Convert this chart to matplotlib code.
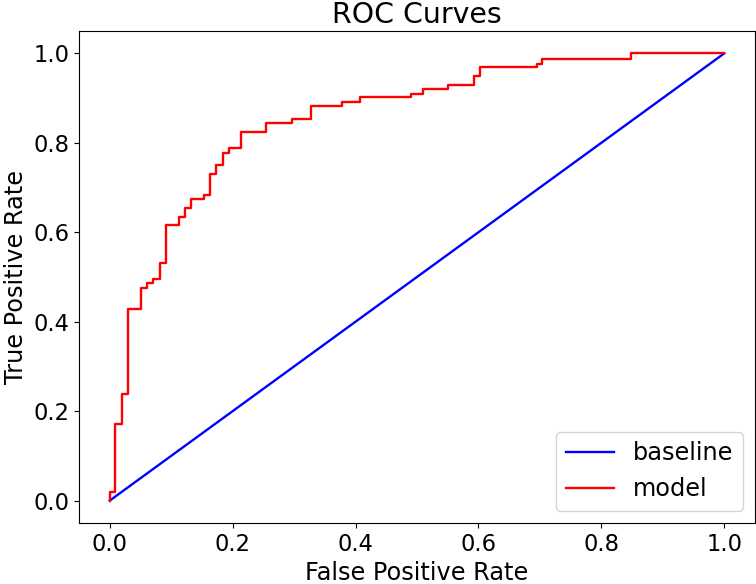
import matplotlib.pyplot as plt

plt.rcParams['font.size'] = 17.3

fpr = [0, 0, 0.0093, 0.020, 0.030, 0.0505, 0.061, 0.071, 0.081, 0.091, 0.112,
       0.122, 0.132, 0.153, 0.163, 0.173, 0.184, 0.194, 0.214, 0.255, 0.296,
       0.327, 0.378, 0.408, 0.490, 0.510, 0.551, 0.592, 0.602, 0.695, 0.704,
       0.848, 1.0]
tpr = [0, 0.019, 0.172, 0.239, 0.428, 0.475, 0.486, 0.495, 0.531, 0.617, 0.635,
       0.655, 0.674, 0.683, 0.731, 0.750, 0.778, 0.788, 0.825, 0.845, 0.853,
       0.882, 0.892, 0.902, 0.910, 0.920, 0.930, 0.949, 0.969, 0.977, 0.987,
       1.0, 1.0]
base_x = [0, 1]
base_y = [0, 1]

fig, ax = plt.subplots(figsize=(7.56, 5.84), dpi=100)
fig.subplots_adjust(left=0.1045, right=0.9987, bottom=0.1045, top=0.947)
ax.plot(base_x, base_y, color='blue', linewidth=1.7, label='baseline')
ax.plot(fpr, tpr, color='red', linewidth=1.7, drawstyle='steps-post', label='model')
ax.set_title("ROC Curves", fontsize=20.4)
ax.set_xlabel("False Positive Rate")
ax.set_ylabel("True Positive Rate")
ax.tick_params(labelsize=16.3)
ax.legend(loc='lower right')
fig.savefig("out.png", dpi=100)
